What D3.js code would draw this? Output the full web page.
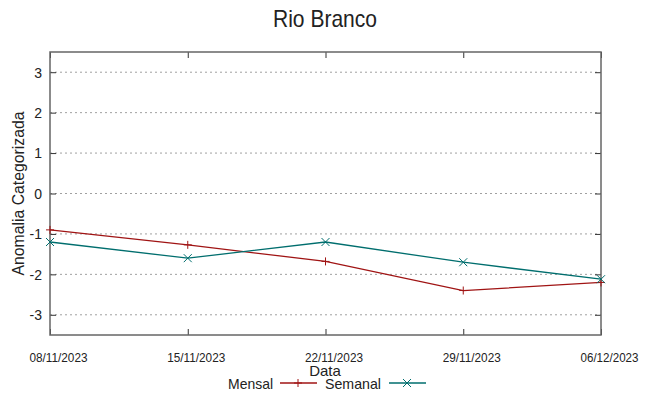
<!DOCTYPE html>
<html>
<head>
<meta charset="utf-8">
<script src="https://cdn.jsdelivr.net/npm/d3@7"></script>
<style>
  body { margin: 0; background: #fff; }
  text { font-family: "Liberation Sans", Arial, sans-serif; fill: #222; }
</style>
</head>
<body>
<script>
// Data
var dates = ['08/11/2023', '15/11/2023', '22/11/2023', '29/11/2023', '06/12/2023'];
var mensal = [-0.9, -1.27, -1.68, -2.4, -2.2];
var semanal = [-1.2, -1.6, -1.2, -1.7, -2.12];
var yTicks = [-3, -2, -1, 0, 1, 2, 3];

var width = 649, height = 396;
var margin = {left: 50, right: 48, top: 52, bottom: 61};

var svg = d3.select('body').append('svg')
    .attr('width', width)
    .attr('height', height);

var parse = d3.timeParse('%d/%m/%Y');
var x = d3.scaleTime()
    .domain([parse(dates[0]), parse(dates[dates.length - 1])])
    .range([margin.left, width - margin.right]);

var y = d3.scaleLinear()
    .domain([-3.5, 3.5])
    .range([height - margin.bottom, margin.top]);

// Grid lines
svg.append('g')
    .selectAll('line')
    .data(yTicks)
    .enter()
    .append('line')
    .attr('x1', margin.left)
    .attr('x2', width - margin.right)
    .attr('y1', function(d){ return y(d); })
    .attr('y2', function(d){ return y(d); })
    .style('stroke', '#a0a0a0')
    .style('stroke-width', 1)
    .style('stroke-dasharray', '2,3');

// Axes: inward ticks on all sides, gnuplot style
var tickDates = dates.map(parse);
var yAxis = d3.axisLeft(y).tickValues(yTicks).tickSize(-6).tickPadding(8)
    .tickFormat(function(d){ return String(d); }); // plain hyphen minus
var yAxisR = d3.axisRight(y).tickValues(yTicks).tickSize(-6).tickFormat('');
var xAxis = d3.axisBottom(x).tickValues(tickDates).tickSize(-6).tickPadding(18)
    .tickFormat(function(d, i){ return dates[i]; });
var xAxisT = d3.axisTop(x).tickValues(tickDates).tickSize(-6).tickFormat('');

var gy = svg.append('g').attr('transform', 'translate(' + margin.left + ',0)').call(yAxis);
var gyr = svg.append('g').attr('transform', 'translate(' + (width - margin.right) + ',0)').call(yAxisR);
var gx = svg.append('g').attr('transform', 'translate(0,' + (height - margin.bottom) + ')').call(xAxis);
var gxt = svg.append('g').attr('transform', 'translate(0,' + margin.top + ')').call(xAxisT);

[gy, gyr, gx, gxt].forEach(function(g){
    g.select('.domain').remove();
    g.selectAll('line').style('stroke', '#333').style('stroke-width', 1);
});
gy.selectAll('text').style('font-size', '14px').style('fill', '#222').attr('dy', '0.35em');
gx.selectAll('text').style('font-size', '12px').style('fill', '#222')
    .attr('dx', 8).attr('textLength', 58).attr('lengthAdjust', 'spacingAndGlyphs');

// Border
svg.append('rect')
    .attr('x', margin.left)
    .attr('y', margin.top)
    .attr('width', width - margin.left - margin.right)
    .attr('height', height - margin.top - margin.bottom)
    .style('fill', 'none')
    .style('stroke', '#666')
    .style('stroke-width', 1.5);

// Series
var series = [
    {name: 'Mensal', values: mensal, color: '#a01414', marker: 'plus'},
    {name: 'Semanal', values: semanal, color: '#006e6e', marker: 'cross'}
];

var line = d3.line()
    .x(function(d, i){ return x(tickDates[i]); })
    .y(function(d){ return y(d); });

function drawMarker(g, cx, cy, type, color){
    var s = 4;
    if (type === 'plus'){
        g.append('line').attr('x1', cx - s).attr('x2', cx + s).attr('y1', cy).attr('y2', cy);
        g.append('line').attr('x1', cx).attr('x2', cx).attr('y1', cy - s).attr('y2', cy + s);
    } else {
        g.append('line').attr('x1', cx - s).attr('x2', cx + s).attr('y1', cy - s).attr('y2', cy + s);
        g.append('line').attr('x1', cx - s).attr('x2', cx + s).attr('y1', cy + s).attr('y2', cy - s);
    }
    g.selectAll('line').style('stroke', color).style('stroke-width', 1);
}

series.forEach(function(s){
    svg.append('path')
        .datum(s.values)
        .attr('d', line)
        .style('fill', 'none')
        .style('stroke', s.color)
        .style('stroke-width', 1.3);
    s.values.forEach(function(v, i){
        drawMarker(svg.append('g'), x(tickDates[i]), y(v), s.marker, s.color);
    });
});

// Titles
svg.append('text')
    .attr('x', 325).attr('y', 27)
    .attr('text-anchor', 'middle')
    .attr('textLength', 104).attr('lengthAdjust', 'spacingAndGlyphs')
    .style('font-size', '24px')
    .text('Rio Branco');

svg.append('text')
    .attr('transform', 'translate(24,' + y(0) + ') rotate(-90)')
    .attr('text-anchor', 'middle')
    .attr('textLength', 164).attr('lengthAdjust', 'spacingAndGlyphs')
    .style('font-size', '16px')
    .text('Anomalia Categorizada');

svg.append('text')
    .attr('x', 325).attr('y', 376)
    .attr('text-anchor', 'middle')
    .style('font-size', '15px')
    .text('Data');

// Legend
var legend = [
    {name: 'Mensal', textX: 273, lineX: 280, w: 45},
    {name: 'Semanal', textX: 381, lineX: 389, w: 56}
];
legend.forEach(function(l, i){
    var s = series[i];
    svg.append('text')
        .attr('x', l.textX - l.w).attr('y', 389)
        .attr('textLength', l.w).attr('lengthAdjust', 'spacingAndGlyphs')
        .style('font-size', '15px')
        .text(l.name);
    svg.append('line')
        .attr('x1', l.lineX).attr('x2', l.lineX + 37)
        .attr('y1', 383).attr('y2', 383)
        .style('stroke', s.color).style('stroke-width', 1.3);
    drawMarker(svg.append('g'), l.lineX + 18, 383, s.marker, s.color);
});
</script>
</body>
</html>
